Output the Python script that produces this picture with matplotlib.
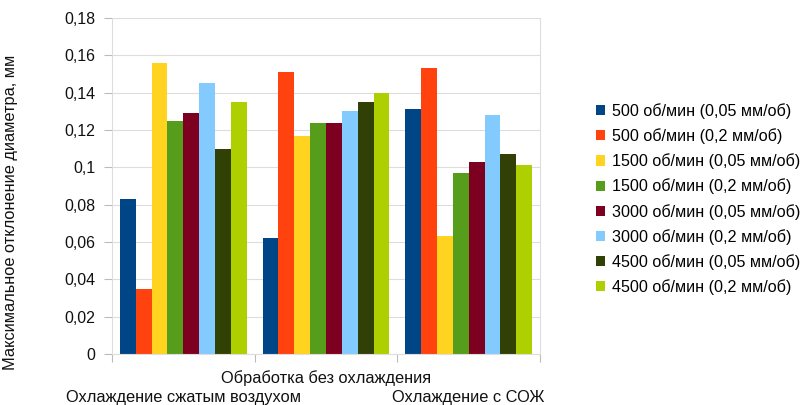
import numpy as np
import matplotlib.pyplot as plt
from matplotlib.ticker import FixedLocator, FuncFormatter

plt.rcParams['font.family'] = ['Liberation Sans', 'DejaVu Sans']

groups = ['Охлаждение сжатым воздухом', 'Обработка без охлаждения', 'Охлаждение с СОЖ']
series = ['500 об/мин (0,05 мм/об)', '500 об/мин (0,2 мм/об)',
          '1500 об/мин (0,05 мм/об)', '1500 об/мин (0,2 мм/об)',
          '3000 об/мин (0,05 мм/об)', '3000 об/мин (0,2 мм/об)',
          '4500 об/мин (0,05 мм/об)', '4500 об/мин (0,2 мм/об)']
v500_005 = [0.083, 0.062, 0.131]
v500_02 = [0.035, 0.151, 0.153]
v1500_005 = [0.156, 0.117, 0.063]
v1500_02 = [0.125, 0.124, 0.097]
v3000_005 = [0.129, 0.124, 0.103]
v3000_02 = [0.145, 0.130, 0.128]
v4500_005 = [0.110, 0.135, 0.107]
v4500_02 = [0.135, 0.140, 0.101]
colors = ['#004586', '#ff420e', '#ffd320', '#579d1c',
          '#7e0021', '#83caff', '#314004', '#aecf00']

values = [v500_005, v500_02, v1500_005, v1500_02,
          v3000_005, v3000_02, v4500_005, v4500_02]

fig = plt.figure(figsize=(8.07, 4.05), dpi=100)
ax = fig.add_axes([112/807, 51/405, 428/807, 336/405])

x = np.arange(len(groups))
w = 0.89 / len(series)
for i, (vals, name, c) in enumerate(zip(values, series, colors)):
    ax.bar(x - 0.445 + w*(i + 0.5), vals, width=w, color=c, label=name, zorder=2)

ax.set_xlim(-0.5, 2.5)
ax.set_ylim(0, 0.18)
ax.yaxis.set_major_locator(FixedLocator(np.arange(0, 0.181, 0.02)))
ax.yaxis.set_major_formatter(FuncFormatter(lambda v, p: ('%g' % round(v, 2)).replace('.', ',')))
ax.grid(axis='y', color='#dddddd', lw=0.8, zorder=0)

# category boundaries get ticks, names are staggered on two rows
ax.set_xticks([-0.5, 0.5, 1.5, 2.5])
ax.set_xticklabels([])
for i, g in enumerate(groups):
    ax.annotate(g, (i, 0), xycoords=('data', 'axes fraction'),
                xytext=(0, -17 if i == 1 else -31), textcoords='offset points',
                ha='center', va='center', fontsize=11.8, color='#111111')

ax.spines['top'].set_visible(False)
for s in ['left', 'right', 'bottom']:
    ax.spines[s].set_color('#dddddd')
ax.tick_params(axis='both', colors='#bbbbbb', length=6, width=0.8,
               labelcolor='#111111', labelsize=11.5)
ax.tick_params(axis='y', pad=6)

ax.set_ylabel('Максимальное отклонение диаметра, мм', fontsize=11.8, color='#111111')
ax.yaxis.set_label_coords(-(112 - 18)/428, (405 - 212 - 51)/336)

fig.legend(loc='center left', bbox_to_anchor=(581/807, (405 - 199)/405),
           frameon=False, fontsize=11.6, handlelength=0.6, handleheight=0.6,
           handletextpad=0.4, labelspacing=0.58)

fig.savefig('out.png')
